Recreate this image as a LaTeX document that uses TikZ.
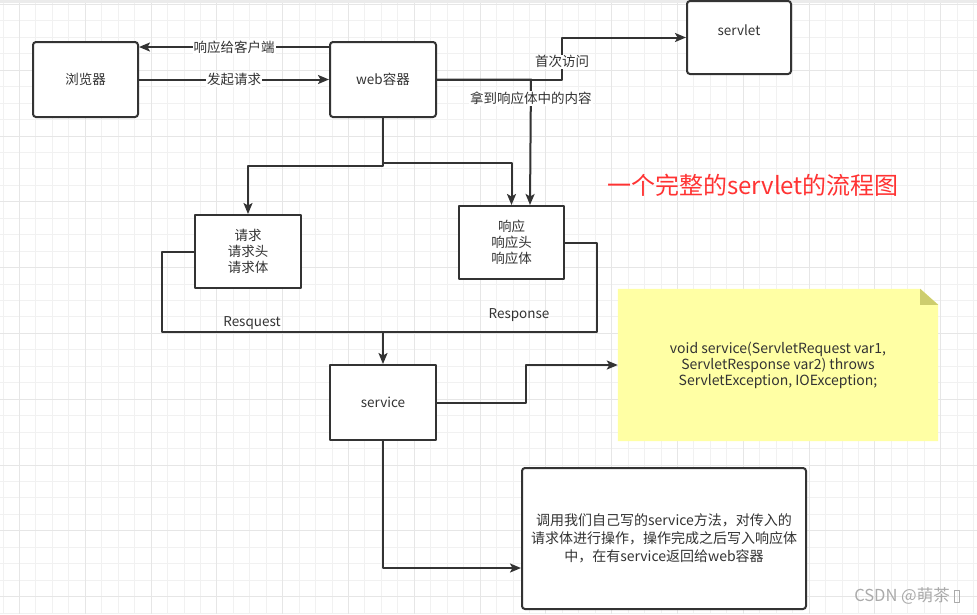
\documentclass[tikz,border=0pt]{standalone}
\usepackage{fontspec}
\setmainfont{Noto Sans CJK SC}
\usetikzlibrary{calc,arrows.meta}
\definecolor{ink}{HTML}{333333}
\definecolor{gridminor}{HTML}{F1F1F1}
\definecolor{gridmajor}{HTML}{E6E6E6}
\definecolor{topband}{HTML}{EBEBEB}
\definecolor{notefill}{HTML}{FFFFA4}
\definecolor{notefold}{HTML}{CDCD6E}
\definecolor{titlered}{HTML}{FF3333}
\definecolor{wmgray}{HTML}{AAAAAA}
\newcommand{\lblfont}{\fontsize{13.5}{16}\selectfont}
\begin{document}
\begin{tikzpicture}[x=1pt, y=-1pt, line join=round,
  box/.style={draw=ink, line width=2pt, fill=white, inner sep=0pt,
    text=ink, font=\lblfont, align=center},
  rbox/.style={box, rounded corners=3pt},
  conn/.style={draw=ink, line width=2pt,
    -{Stealth[length=11pt, width=9pt, inset=2.5pt]}},
  wire/.style={draw=ink, line width=2pt},
  elabel/.style={fill=white, inner sep=1pt, text=ink, font=\lblfont},
  plain/.style={inner sep=0pt, text=ink, font=\lblfont, align=center}]

\useasboundingbox (0,0) rectangle (977,614);
\fill[white] (0,0) rectangle (977,614);

% background grid
\foreach \k in {0,...,59}
  \draw[gridminor, line width=1pt] ({3.05+16.45*\k},3) -- ({3.05+16.45*\k},614);
\foreach \k in {0,...,37}
  \draw[gridminor, line width=1pt] (0,{4.4+16.45*\k}) -- (977,{4.4+16.45*\k});
\foreach \k in {0,...,14}
  \draw[gridmajor, line width=1pt] ({19.5+65.8*\k},3) -- ({19.5+65.8*\k},614);
\foreach \k in {0,...,9}
  \draw[gridmajor, line width=1pt] (0,{4.4+65.8*\k}) -- (977,{4.4+65.8*\k});
\fill[topband] (0,0) rectangle (977,3);

% boxes
\node[rbox, minimum width=105pt, minimum height=75pt] (br) at (85.5,79.5) {浏览器};
\node[rbox, minimum width=106pt, minimum height=75pt] (web) at (383,79.5) {web容器};
\node[rbox, minimum width=104pt, minimum height=73pt] (sv) at (739,37.5) {};
\node[plain] (svt) at (739,30) {servlet};
\node[box, minimum width=106pt, minimum height=73pt] (req) at (248,251.5) {请求\\请求头\\请求体};
\node[box, minimum width=105pt, minimum height=73pt] (resp) at (511.5,242.5) {响应\\响应头\\响应体};
\node[box, minimum width=106pt, minimum height=75pt] (svc) at (383,402.5) {service};
\node[rbox, minimum width=284pt, minimum height=141pt,
  font=\fontsize{14}{18}\selectfont] (bot) at (664,538.5)
  {调用我们自己写的service方法，对传入的\\请求体进行操作，操作完成之后写入响应体\\中，在有service返回给web容器};

% sticky note with folded corner
\node[minimum width=320pt, minimum height=152pt, inner sep=0pt] (note) at (778,365) {};
\fill[notefill] (note.north west) -- ($(note.north east)+(-18,0)$)
  -- ($(note.north east)+(0,16)$) -- (note.south east) -- (note.south west) -- cycle;
\fill[notefold] ($(note.north east)+(-18,0)$) -- ($(note.north east)+(-18,16)$)
  -- ($(note.north east)+(0,16)$) -- cycle;
\node[plain, font=\fontsize{14}{16}\selectfont] (notetext) at (note.center)
  {void service(ServletRequest var1,\\ServletResponse var2) throws\\ServletException, IOException;};

% connectors
\draw[conn] ($(web.north west)+(0,6)$) -- node[elabel]{响应给客户端} ($(br.north east)+(0,6)$);
\draw[conn] (br.east) -- node[elabel]{发起请求} (web.west);
\draw[conn] (web.east) -- ++(125,0) -- node[elabel, pos=0.42]{首次访问} ++(0,-42) -- (sv.west);
\draw[conn] (web.east) -- ++(94,0) -- node[elabel, pos=0.15]{拿到响应体中的内容} ($(resp.north)+(18.5,0)$);
\draw[conn] (web.south) -- ++(0,48) -| (req.north);
\draw[conn] (web.south) -- ++(0,45) -| (resp.north);
\draw[conn] (req.west) -- ++(-32,0) |- ($(svc.north)+(0,-32)$) -- (svc.north);
\draw[wire] (resp.east) -- ++(32,0) |- ($(svc.north)+(0,-32)$);
\draw[conn] (svc.east) -- ++(89,0) |- (note.west);
\draw[conn] (svc.south) |- ($(bot.west)+(0,29.5)$);

% free labels
\node[plain] (reqlbl) at (252,323) {Resquest};
\node[plain] (resplbl) at (519,315) {Response};
\node[text=titlered, inner sep=0pt, font=\fontsize{24}{28}\selectfont] (title) at (753,185)
  {一个完整的servlet的流程图};
\node[anchor=east, inner sep=0pt, text=wmgray, font=\fontsize{16.5}{18}\selectfont] (wm) at (950,596)
  {CSDN @萌茶};
\draw[wmgray, line width=0.8pt] ($(wm.east)+(4,-6)$) rectangle ++(5,12);
\end{tikzpicture}
\end{document}
